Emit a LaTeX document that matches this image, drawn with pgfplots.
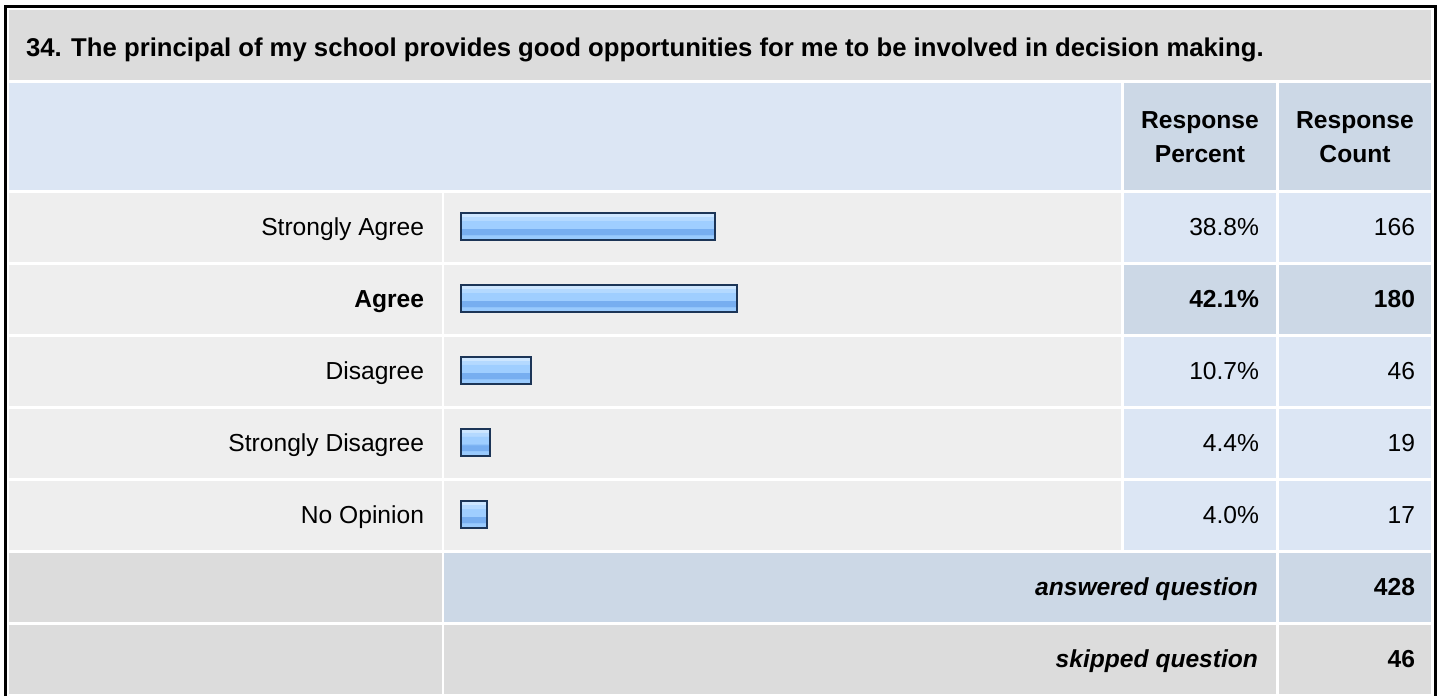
\documentclass[border=0pt]{standalone}
\usepackage{pgfplots}
\pgfplotsset{compat=1.18}
\usepackage{fontspec}
\setmainfont{Liberation Sans}
\definecolor{titlebg}{HTML}{DCDCDC}
\definecolor{hdrbg}{HTML}{DCE6F4}
\definecolor{hdrcell}{HTML}{CCD8E6}
\definecolor{rowbg}{HTML}{EEEEEE}
\definecolor{barline}{HTML}{1C3557}
\definecolor{btop}{HTML}{CDE6FF}
\definecolor{btoptwo}{HTML}{B4D9FF}
\definecolor{bmid}{HTML}{9FCEFF}
\definecolor{bband}{HTML}{77AEF0}
\definecolor{bbot}{HTML}{99CAFD}
\pgfdeclareverticalshading{barshade}{100bp}{color(0bp)=(bbot); color(25bp)=(bbot); color(34bp)=(bbot); color(35bp)=(bband); color(46bp)=(bband); color(47bp)=(bmid); color(61bp)=(bmid); color(62bp)=(btoptwo); color(68bp)=(btoptwo); color(69bp)=(btop); color(100bp)=(btop)}
\newcommand{\fs}{\fontsize{12.3}{17}\selectfont}
\pgfplotsset{barstyle/.style={draw=barline, line width=1pt, fill=bmid, shade, shading=barshade, bar shift=0pt}}
\begin{document}
\begin{tikzpicture}[every node/.style={inner sep=0pt, outer sep=0pt}]
\useasboundingbox (0,0) rectangle (720pt,348pt);
\fill[white] (0,0) rectangle (720pt,348pt);
\begin{axis}[at={(0,0)}, anchor=south west, width=720pt, height=348pt, scale only axis,
  xmin=0, xmax=1440, ymin=0, ymax=696, y dir=reverse, hide axis, clip=false]
% outer border
\draw[black, line width=1.5pt] (5.5,696) -- (5.5,6.5) -- (1435.5,6.5) -- (1435.5,696);
% title band
\fill[titlebg] (9,10) rectangle (1431,80);
\node[anchor=base west, font=\fontsize{12.85}{17}\selectfont\bfseries] at (26,56) {34. The principal of my school provides good opportunities for me to be involved in decision making.};
% header
\fill[hdrbg] (9,83) rectangle (1121,190);
\fill[hdrcell] (1124,83) rectangle (1276,190);
\fill[hdrcell] (1279,83) rectangle (1431,190);
\node[anchor=base, font=\fs\bfseries] at (1200,128) {Response};
\node[anchor=base, font=\fs\bfseries] at (1200,162) {Percent};
\node[anchor=base, font=\fs\bfseries] at (1355,128) {Response};
\node[anchor=base, font=\fs\bfseries] at (1355,162) {Count};
% rows
\foreach \i/\pc in {0/hdrbg,1/hdrcell,2/hdrbg,3/hdrbg,4/hdrbg}{
  \edef\temp{\noexpand\fill[rowbg] (9,{192.5+72*\i}) rectangle (441.5,{262+72*\i});
  \noexpand\fill[rowbg] (444,{192.5+72*\i}) rectangle (1121,{262+72*\i});
  \noexpand\fill[\pc] (1124,{192.5+72*\i}) rectangle (1276,{262+72*\i});
  \noexpand\fill[\pc] (1279,{192.5+72*\i}) rectangle (1431,{262+72*\i});}
  \temp
}
\node[anchor=base east, font=\fs] at (424,235.5) {Strongly Agree};
\node[anchor=base east, font=\fs\bfseries] at (424,307.5) {Agree};
\node[anchor=base east, font=\fs] at (424,379.5) {Disagree};
\node[anchor=base east, font=\fs] at (424,451.5) {Strongly Disagree};
\node[anchor=base east, font=\fs] at (424,523.5) {No Opinion};
\node[anchor=base east, font=\fs] at (1259,235.5) {38.8\%};
\node[anchor=base east, font=\fs\bfseries] at (1259,307.5) {42.1\%};
\node[anchor=base east, font=\fs] at (1259,379.5) {10.7\%};
\node[anchor=base east, font=\fs] at (1259,451.5) {4.4\%};
\node[anchor=base east, font=\fs] at (1259,523.5) {4.0\%};
\node[anchor=base east, font=\fs] at (1415,235.5) {166};
\node[anchor=base east, font=\fs\bfseries] at (1415,307.5) {180};
\node[anchor=base east, font=\fs] at (1415,379.5) {46};
\node[anchor=base east, font=\fs] at (1415,451.5) {19};
\node[anchor=base east, font=\fs] at (1415,523.5) {17};
% footer
\fill[titlebg] (9,552.5) rectangle (441.5,622);
\fill[hdrcell] (444,552.5) rectangle (1276,622);
\fill[hdrcell] (1279,552.5) rectangle (1431,622);
\fill[titlebg] (9,624.5) rectangle (441.5,694);
\fill[titlebg] (444,624.5) rectangle (1276,694);
\fill[titlebg] (1279,624.5) rectangle (1431,694);
\node[anchor=base east, font=\fs\bfseries\itshape] at (1258,595.5) {answered question};
\node[anchor=base east, font=\fs\bfseries] at (1415,595.5) {428};
\node[anchor=base east, font=\fs\bfseries\itshape] at (1258,667.5) {skipped question};
\node[anchor=base east, font=\fs\bfseries] at (1415,667.5) {46};
\end{axis}
\begin{axis}[at={(230.5pt,0)}, anchor=south west, width=327.8pt, height=348pt, scale only axis,
  xmin=0, xmax=100, ymin=-2.145833, ymax=7.520833, y dir=reverse, hide axis, clip=false,
  xbar, bar width=13.5pt, bar shift=0pt]
\addplot[barstyle] coordinates {(38.8,1)};
\addplot[barstyle] coordinates {(42.1,2)};
\addplot[barstyle] coordinates {(10.7,3)};
\addplot[barstyle] coordinates {(4.4,4)};
\addplot[barstyle] coordinates {(4.0,5)};
\end{axis}
\end{tikzpicture}
\end{document}
